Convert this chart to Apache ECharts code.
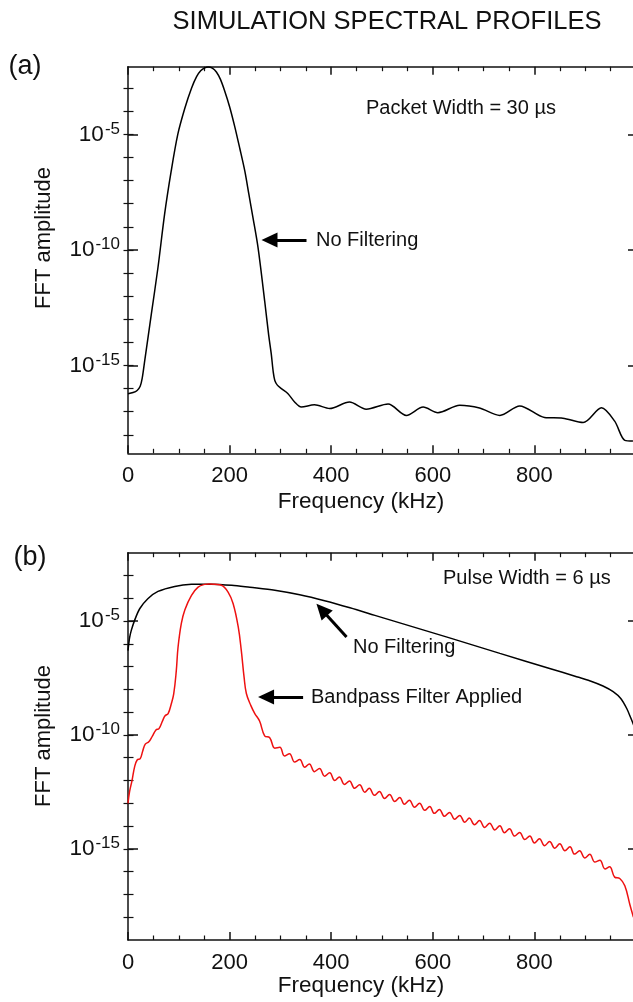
<!DOCTYPE html>
<html><head><meta charset="utf-8">
<script src="https://cdn.jsdelivr.net/npm/echarts@6/dist/echarts.min.js"></script>
<style>html,body{margin:0;padding:0;background:#fff}#c{width:633px;height:1002px}</style>
</head><body><div id="c"></div><script>
// ---- Data (amplitudes stored as log10 exponents) ----
// Panel (a): packet, no filtering
const freqA = [0,10,18,24,28,33,40,46,59,72,85,98,112,125,135,143,150,158,166,174,182,190,200,210,220,230,238,246,256,269,277,282,286,289,294,302,315,328,341,367,397,436,469,512,548,581,610,653,692,732,771,820,856,896,932,958,978,994];
const log10AmpA = [-16.22,-16.17,-16.08,-15.9,-15.55,-14.78,-13.7,-12.77,-10.76,-8.46,-6.59,-5.0,-3.86,-3.0,-2.5,-2.25,-2.13,-2.08,-2.13,-2.3,-2.62,-3.1,-3.8,-4.65,-5.6,-6.59,-7.6,-8.6,-9.9,-12.2,-13.7,-14.5,-15.3,-15.65,-15.85,-16.0,-16.22,-16.58,-16.8,-16.7,-16.86,-16.58,-16.89,-16.67,-17.16,-16.8,-17.04,-16.72,-16.84,-17.16,-16.75,-17.25,-17.28,-17.47,-16.83,-17.41,-18.24,-18.27];
// Panel (b): pulse, no filtering
const freqB = [0,3,6.5,13,23,39,59,92,125,164,204,240,289,338,387,437,486,535,633,732,830,880,910,935,955,970,982,990,996];
const log10AmpB = [-6.3,-5.75,-5.41,-4.97,-4.46,-4.02,-3.70,-3.48,-3.39,-3.38,-3.43,-3.52,-3.65,-3.85,-4.11,-4.42,-4.75,-5.08,-5.74,-6.42,-7.08,-7.42,-7.63,-7.85,-8.1,-8.4,-8.85,-9.27,-9.6];
// Panel (b): pulse, bandpass filter applied
const freqBP = [0,3,8,13,18,24,29,34,41,48,55,61,68,73,79,85,90,95,98.5,105,112,125,138,151,160,171,184,197,207,217,223,228.5,233,241.7,249.6,
  259,269,279,289,299,308,318,328,338,348,357,367,377,387,397,407,416,426,436,446,456,466,475,485,495,505,515,525,535,544,554,564,574,584,594,603,613,623,633,643,653,663,672,682,692,702,712,722,732,741,751,761,771,781,791,800,810,820,830,840,850,860,870,879,889,899,909,919,929,939,948,958,968,978,988,995];
const log10AmpBP = [-13.0,-12.5,-11.99,-11.4,-11.1,-11.04,-10.7,-10.4,-10.3,-10.05,-9.78,-9.72,-9.38,-9.16,-9.06,-8.65,-8.2,-7.2,-6.15,-5.1,-4.5,-3.87,-3.51,-3.39,-3.37,-3.39,-3.43,-3.73,-4.24,-5.26,-6.29,-7.46,-8.18,-8.7,-9.06,
  -9.39,-10.04,-10.12,-10.58,-10.54,-10.92,-10.82,-11.19,-11.08,-11.42,-11.27,-11.61,-11.47,-11.81,-11.66,-12.00,-11.84,-12.17,-12.02,-12.34,-12.19,-12.51,-12.34,-12.65,-12.48,-12.79,-12.61,-12.92,-12.74,-13.04,-12.87,-13.17,-13.00,-13.31,-13.14,-13.44,-13.27,-13.57,-13.40,-13.70,-13.53,-13.83,-13.65,-13.94,-13.76,-14.06,-13.87,-14.17,-13.98,-14.29,-14.12,-14.44,-14.28,-14.59,-14.43,-14.74,-14.56,-14.86,-14.68,-14.97,-14.78,-15.08,-14.91,-15.23,-15.08,-15.40,-15.24,-15.58,-15.50,-15.88,-15.79,-16.24,-16.30,-16.62,-17.45,-18.0];
// Ticks
const xTickLabels = [0,200,400,600,800];
const yMajorExp = [-15,-10,-5];
const yMinorExp = [-18,-17,-16,-15,-14,-13,-12,-11,-10,-9,-8,-7,-6,-5,-4,-3];
const yRangeA = [-18.8, -2.07];
const yRangeB = [-19, -2];

const FONT = 'Liberation Sans, Arial, Helvetica, sans-serif';
const INK = '#111';

function pairs(xs, ys){ return xs.map((x,i)=>[x, ys[i]]); }

function xAxes(gi){
  const base = {
    type:'value', gridIndex:gi, min:0, max:1000, interval:200,
    axisLine:{show:true, onZero:false, lineStyle:{color:INK, width:1.5}},
    axisTick:{show:true, inside:true, length:8, lineStyle:{color:INK, width:1.5}},
    minorTick:{show:true, splitNumber:4, length:4.5, lineStyle:{color:INK, width:1.2}},
    splitLine:{show:false}, minorSplitLine:{show:false}
  };
  return [
    Object.assign({}, base, {position:'bottom',
      axisLabel:{show:true, customValues:xTickLabels, fontSize:22, color:INK, margin:12, fontFamily:FONT}}),
    Object.assign({}, base, {position:'top', axisLabel:{show:false}})
  ];
}
function yAxes(gi, rng){
  const common = {type:'value', gridIndex:gi, min:rng[0], max:rng[1], splitLine:{show:false}};
  return [
    Object.assign({}, common, {position:'left',
      axisLine:{show:true, onZero:false, lineStyle:{color:INK, width:1.5}},
      axisTick:{show:true, inside:true, length:10, customValues:yMajorExp, lineStyle:{color:INK, width:1.5}},
      axisLabel:{show:true, customValues:yMajorExp, margin:8, color:INK,
        formatter:(v)=>'{b|10}{s|' + v + '}',
        rich:{ b:{fontSize:22.5, lineHeight:28, fontFamily:FONT, color:INK},
               s:{fontSize:17, lineHeight:16, verticalAlign:'top', padding:[0,0,0,1], fontFamily:FONT, color:INK} } } }),
    Object.assign({}, common, {position:'left',
      axisLine:{show:false},
      axisTick:{show:true, inside:true, length:5.5, customValues:yMinorExp, lineStyle:{color:INK, width:1.2}},
      axisLabel:{show:false}}),
    Object.assign({}, common, {position:'right',
      axisLine:{show:true, onZero:false, lineStyle:{color:INK, width:1.5}},
      axisTick:{show:true, inside:true, length:8, customValues:yMajorExp, lineStyle:{color:INK, width:1.5}},
      axisLabel:{show:false}}),
    Object.assign({}, common, {position:'right',
      axisLine:{show:false},
      axisTick:{show:true, inside:true, length:4.5, customValues:yMinorExp, lineStyle:{color:INK, width:1.2}},
      axisLabel:{show:false}})
  ];
}

function arrow(from, to){
  return [{coord:from}, {coord:to}];
}
const arrowStyle = {
  silent:true, symbol:['none','triangle'], symbolSize:[15,16],
  label:{show:false}, lineStyle:{color:'#000', width:3, type:'solid'},
  emphasis:{disabled:true}, animation:false
};

function txt(text, x, y, size){
  return {type:'text', x:x, y:y, silent:true,
    style:{text:text, fontSize:size, fontFamily:FONT, fill:INK, align:'left', verticalAlign:'middle'}};
}
function ctxt(text, x, y, size, rot){
  return {type:'text', x:x, y:y, rotation:rot||0, silent:true,
    style:{text:text, fontSize:size, fontFamily:FONT, fill:INK, align:'center', verticalAlign:'middle'}};
}

const chart = echarts.init(document.getElementById('c'), null, {renderer:'canvas'});
const option = {
  animation:false,
  backgroundColor:'#fff',
  textStyle:{fontFamily:FONT},
  grid:[
    {left:128, right:-3, top:66.7, height:386.6, outerBoundsMode:'none', containLabel:false},
    {left:128, right:-3, top:552.7, height:387.3, outerBoundsMode:'none', containLabel:false}
  ],
  xAxis: xAxes(0).concat(xAxes(1)),
  yAxis: yAxes(0, yRangeA).concat(yAxes(1, yRangeB)),
  series:[
    {type:'line', name:'(a) No Filtering', xAxisIndex:0, yAxisIndex:0, data:pairs(freqA, log10AmpA),
      showSymbol:false, smooth:0.3, lineStyle:{color:'#000', width:1.5}, silent:true,
      markLine:Object.assign({data:[arrow([351.4,-9.57],[278.5,-9.57])]}, arrowStyle)},
    {type:'line', name:'(b) No Filtering', xAxisIndex:2, yAxisIndex:4, data:pairs(freqB, log10AmpB),
      showSymbol:false, smooth:0.3, lineStyle:{color:'#000', width:1.5}, silent:true,
      markLine:Object.assign({data:[arrow([430.2,-5.70],[381.5,-4.50])]}, arrowStyle)},
    {type:'line', name:'(b) Bandpass Filter Applied', xAxisIndex:2, yAxisIndex:4, data:pairs(freqBP, log10AmpBP),
      showSymbol:false, smooth:0.4, lineStyle:{color:'#ee1111', width:1.5}, silent:true,
      markLine:Object.assign({data:[arrow([344.7,-8.33],[271.8,-8.33])]}, arrowStyle)}
  ],
  graphic:[
    ctxt('SIMULATION SPECTRAL PROFILES', 387, 22, 25.5),
    ctxt('(a)', 25, 67, 27),
    ctxt('(b)', 30, 558, 27),
    ctxt('FFT amplitude', 44, 238, 22, Math.PI/2),
    ctxt('FFT amplitude', 44, 736, 22, Math.PI/2),
    ctxt('Frequency (kHz)', 361, 502, 22.5),
    ctxt('Frequency (kHz)', 361, 986, 22.5),
    txt('Packet Width = 30 \u00b5s', 366, 108, 20),
    txt('No Filtering', 316, 240, 20),
    txt('Pulse Width = 6 \u00b5s', 443, 578, 20),
    txt('No Filtering', 353, 647, 20),
    txt('Bandpass Filter Applied', 311, 697, 20)
  ]
};
chart.setOption(option);
</script></body></html>
